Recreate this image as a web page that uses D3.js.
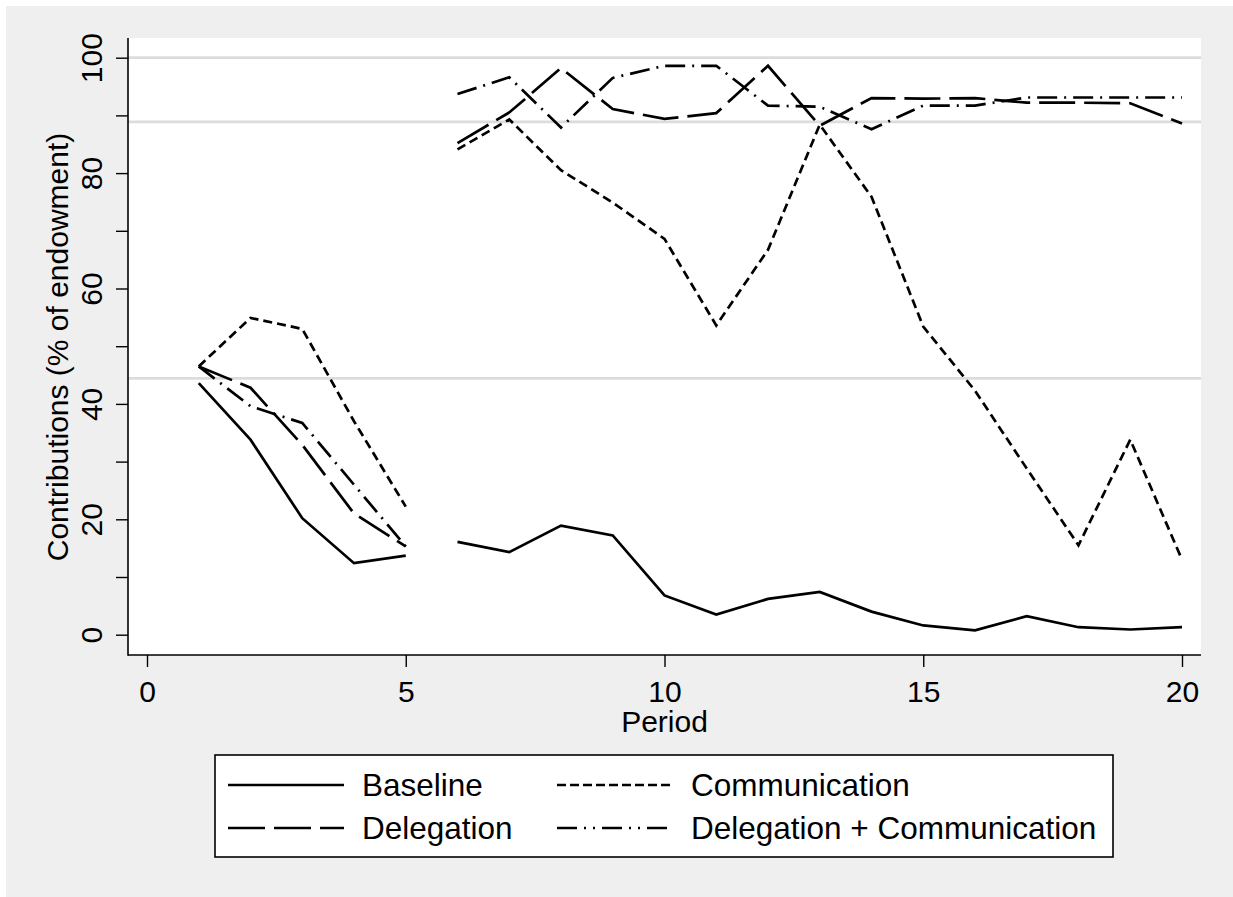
<!DOCTYPE html>
<html>
<head>
<meta charset="utf-8">
<script src="https://cdn.jsdelivr.net/npm/d3@7"></script>
<style>
  html, body { margin: 0; padding: 0; background: #ffffff; }
  svg { display: block; }
  text { font-family: "Liberation Sans", Arial, Helvetica, sans-serif; fill: #000; }
</style>
</head>
<body>
<svg id="chart" width="1233" height="897"></svg>
<script>
// ---------------- data ----------------
const periods = [1,2,3,4,5,6,7,8,9,10,11,12,13,14,15,16,17,18,19,20];
const breakAfter = 5; // lines are broken between period 5 and 6
const baseline      = [43.6,33.8,20.2,12.4,13.7, 16.1,14.3,18.9,17.2,6.8,3.5,6.2,7.4,4.0,1.6,0.75,3.2,1.3,0.9,1.3];
const communication = [46.5,54.9,53.0,37.0,22.2, 84.1,89.3,80.5,74.9,68.6,53.6,66.7,88.4,75.9,53.4,42.3,28.8,15.5,33.8,13.0];
const delegation    = [46.5,42.8,32.9,21.0,15.3, 85.2,90.5,98.2,91.1,89.4,90.4,98.6,88.2,93.0,92.9,93.0,92.2,92.2,92.1,88.6];
const delegComm     = [46.5,39.6,36.7,26.0,15.3, 93.7,96.6,87.9,96.5,98.6,98.6,91.7,91.5,87.6,91.7,91.7,93.1,93.1,93.1,93.1];
const seriesNames   = ["Baseline","Communication","Delegation","Delegation + Communication"];
const refLines      = [100, 88.89, 44.44];
const xTicks        = [0,5,10,15,20];
const yMajorTicks   = [0,20,40,60,80,100];
const yMinorTicks   = [10,30,50,70,90];
const xTitle = "Period";
const yTitle = "Contributions (% of endowment)";

// ---------------- styles ----------------
const styles = {
  "Baseline": {plot: null, legend: null},
  "Communication": {plot: "9,5", legend: "9,4"},
  "Delegation": {plot: "36,9", legend: "37,9"},
  "Delegation + Communication": {plot: "20,7,2,7", legend: "20,7,2,7,2,7"}
};
const seriesValues = [baseline, communication, delegation, delegComm];

const svg = d3.select("#chart");
const W = 1233, H = 897;
const FS = 30;
const LFS = 31.5;

// outer gray region
svg.append("rect").attr("x", 6).attr("y", 6).attr("width", W - 6).attr("height", H - 6).attr("fill", "#efefef");

// plot region
const plot = {left: 128, right: 1201, top: 38, bottom: 655};
svg.append("rect").attr("x", plot.left).attr("y", plot.top)
  .attr("width", plot.right - plot.left).attr("height", plot.bottom - plot.top).attr("fill", "#ffffff");

const x = d3.scaleLinear().domain([0, 20]).range([147, 1182]);
const y = d3.scaleLinear().domain([0, 100]).range([634.7, 57.7]);

// reference lines
svg.append("g").selectAll("line").data(refLines).join("line")
  .attr("x1", plot.left).attr("x2", plot.right)
  .attr("y1", d => y(d)).attr("y2", d => y(d))
  .attr("stroke", "#dcdcdc").attr("stroke-width", 2.7);

// y axis
const yAxisMajor = d3.axisLeft(y).tickValues(yMajorTicks).tickSize(12).tickPadding(0).tickFormat(d3.format("d"));
const gy = svg.append("g").attr("transform", `translate(${plot.left},0)`).call(yAxisMajor);
gy.select(".domain").remove();
gy.selectAll(".tick line").attr("stroke", "#000").attr("stroke-width", 1.4);
gy.selectAll(".tick text")
  .attr("font-size", FS).attr("fill", "#000")
  .attr("font-family", "Liberation Sans, Arial, sans-serif")
  .attr("text-anchor", "middle").attr("dy", null).attr("x", null)
  .attr("transform", "translate(-26,0) rotate(-90)");
const yAxisMinor = d3.axisLeft(y).tickValues(yMinorTicks).tickSize(12).tickFormat("");
const gym = svg.append("g").attr("transform", `translate(${plot.left},0)`).call(yAxisMinor);
gym.select(".domain").remove();
gym.selectAll(".tick line").attr("stroke", "#000").attr("stroke-width", 1.4);

// x axis
const xAxis = d3.axisBottom(x).tickValues(xTicks).tickSize(12).tickPadding(0).tickFormat(d3.format("d"));
const gx = svg.append("g").attr("transform", `translate(0,${plot.bottom})`).call(xAxis);
gx.select(".domain").remove();
gx.selectAll(".tick line").attr("stroke", "#000").attr("stroke-width", 1.4);
gx.selectAll(".tick text").attr("font-size", FS).attr("fill", "#000")
  .attr("font-family", "Liberation Sans, Arial, sans-serif")
  .attr("dy", null).attr("y", 47);

// axis lines
svg.append("line").attr("x1", plot.left).attr("x2", plot.left).attr("y1", plot.top).attr("y2", plot.bottom + 0.7)
  .attr("stroke", "#000").attr("stroke-width", 1.6);
svg.append("line").attr("x1", plot.left).attr("x2", plot.right).attr("y1", plot.bottom).attr("y2", plot.bottom)
  .attr("stroke", "#000").attr("stroke-width", 1.6);

// titles
svg.append("text").attr("x", (plot.left + plot.right) / 2).attr("y", 732)
  .attr("text-anchor", "middle").attr("font-size", FS).text(xTitle);
svg.append("text").attr("transform", "translate(68,347) rotate(-90)")
  .attr("text-anchor", "middle").attr("font-size", FS).text(yTitle);

// series lines
const line = d3.line().x(d => x(d.p)).y(d => y(d.v));
const gLines = svg.append("g");
seriesNames.forEach((name, i) => {
  const pts = periods.map((p, k) => ({p, v: seriesValues[i][k]}));
  const segs = [pts.filter(d => d.p <= breakAfter), pts.filter(d => d.p > breakAfter)];
  segs.forEach(seg => {
    gLines.append("path").attr("d", line(seg))
      .attr("fill", "none").attr("stroke", "#000").attr("stroke-width", 2.7)
      .attr("stroke-linejoin", "miter").attr("stroke-linecap", "butt")
      .attr("stroke-dasharray", styles[name].plot);
  });
});

// legend
const lg = svg.append("g");
lg.append("rect").attr("x", 215).attr("y", 755).attr("width", 898).attr("height", 102)
  .attr("fill", "#fff").attr("stroke", "#000").attr("stroke-width", 1.6);
const legendPos = {
  "Baseline": {lx: 228, ty: 785},
  "Communication": {lx: 557, ty: 785},
  "Delegation": {lx: 228, ty: 828},
  "Delegation + Communication": {lx: 557, ty: 828}
};
seriesNames.forEach(name => {
  const p = legendPos[name];
  lg.append("line").attr("x1", p.lx).attr("x2", p.lx + 116).attr("y1", p.ty).attr("y2", p.ty)
    .attr("stroke", "#000").attr("stroke-width", 2.7)
    .attr("stroke-dasharray", styles[name].legend);
  lg.append("text").attr("x", p.lx + 134).attr("y", p.ty + 10.5)
    .attr("font-size", LFS).text(name);
});
</script>
</body>
</html>
